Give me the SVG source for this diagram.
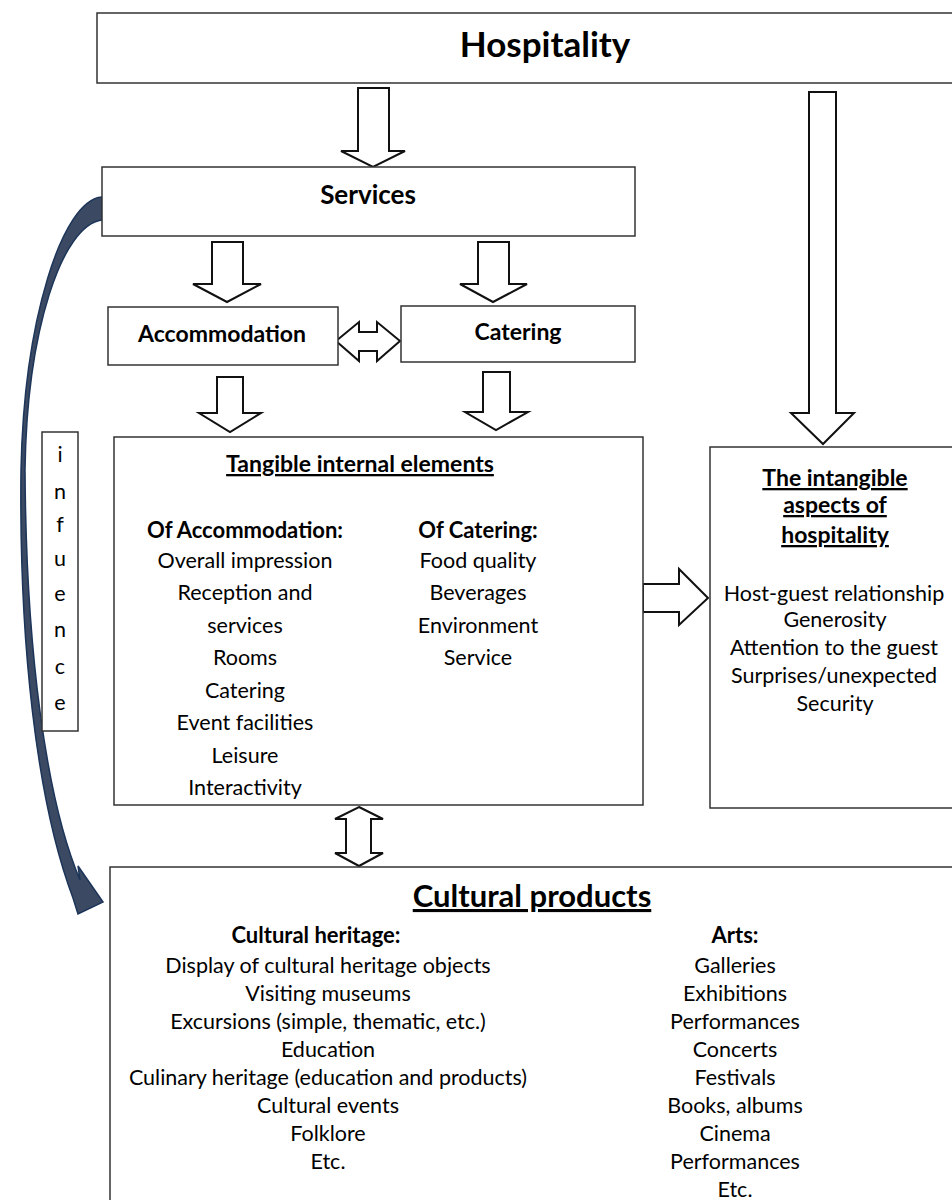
<svg xmlns="http://www.w3.org/2000/svg" width="952" height="1200" viewBox="0 0 952 1200">
<style>
.box{fill:#fff;stroke:#333;stroke-width:1.5}
.arr{fill:#fff;stroke:#111;stroke-width:2;stroke-linejoin:miter}
text{font-family:Lato,"Open Sans","Liberation Sans",sans-serif;fill:#000;text-anchor:middle}
.b{font-weight:bold}
.t{font-size:21.5px}
.bt{font-size:22px;font-weight:bold}
.u{text-decoration:underline}
</style>
<rect width="952" height="1200" fill="#fff"/>
<g id="connectors">
<polygon class="arr" points="358,88 389,88 389,151 405,151 373,167 341,151 358,151"/>
<polygon class="arr" points="809,92 836,92 836,413 854,413 823,444 791,413 809,413"/>
<polygon class="arr" points="212,242 243,242 243,284 261,284 227,302 193,284 212,284"/>
<polygon class="arr" points="478,242 509,242 509,284 527,284 493,302 460,284 478,284"/>
<polygon class="arr" points="217,377 243,377 243,413 261,413 230,432 199,413 217,413"/>
<polygon class="arr" points="483,372 510,372 510,412 528,412 496,430 465,412 483,412"/>
<polygon class="arr" points="336,341 359,322 359,332 377,332 377,322 400,341 377,361 377,351 359,351 359,361"/>
<polygon class="arr" points="643,584 679,584 679,569 708,598 679,625 679,612 643,612"/>
<polygon class="arr" points="359,807 383,819 371,819 371,853 383,853 359,866 335,853 346,853 346,819 335,819"/>
<path d="M102,197 C62,200 24,320 21,470 C19,640 36,800 73,898 L78,914 L103,902 L78,866 L80,880 C46,800 26,650 25,470 C27,330 62,225 102,220 Z" fill="#3b4a62" stroke="#1c3559" stroke-width="1.5"/>
</g>
<g id="hospitality">
<rect class="box" x="97" y="13" width="870" height="70"/>
<text class="b" x="545" y="57" font-size="35">Hospitality</text>
</g>
<g id="services">
<rect class="box" x="102" y="167" width="533" height="69"/>
<text class="b" x="368" y="204" font-size="26">Services</text>
</g>
<g id="accommodation">
<rect class="box" x="108" y="307" width="230" height="58"/>
<text class="b" x="222" y="342" font-size="23">Accommodation</text>
</g>
<g id="catering">
<rect class="box" x="401" y="306" width="234" height="56"/>
<text class="b" x="518" y="340" font-size="23">Catering</text>
</g>
<g id="tangible">
<rect class="box" x="114" y="437" width="529" height="368"/>
<text class="b u" x="360" y="472" font-size="23">Tangible internal elements</text>
<text class="bt" x="245" y="538">Of Accommodation:</text>
<text class="t" x="245" y="568">Overall impression</text>
<text class="t" x="245" y="600">Reception and</text>
<text class="t" x="245" y="633">services</text>
<text class="t" x="245" y="665">Rooms</text>
<text class="t" x="245" y="698">Catering</text>
<text class="t" x="245" y="730">Event facilities</text>
<text class="t" x="245" y="763">Leisure</text>
<text class="t" x="245" y="795">Interactivity</text>
<text class="bt" x="478" y="538">Of Catering:</text>
<text class="t" x="478" y="568">Food quality</text>
<text class="t" x="478" y="600">Beverages</text>
<text class="t" x="478" y="633">Environment</text>
<text class="t" x="478" y="665">Service</text>
</g>
<g id="intangible">
<rect class="box" x="710" y="447" width="260" height="361"/>
<text class="b u" x="835" y="486" font-size="23">The intangible</text>
<text class="b u" x="835" y="513" font-size="23">aspects of</text>
<text class="b u" x="835" y="543" font-size="23">hospitality</text>
<text class="t" x="834" y="601">Host-guest relationship</text>
<text class="t" x="835" y="627">Generosity</text>
<text class="t" x="834" y="655">Attention to the guest</text>
<text class="t" x="834" y="683">Surprises/unexpected</text>
<text class="t" x="835" y="711">Security</text>
</g>
<g id="influence">
<rect class="box" x="42" y="432" width="36" height="299"/>
<text class="t" x="60" y="462">i</text>
<text class="t" x="60" y="499">n</text>
<text class="t" x="60" y="532">f</text>
<text class="t" x="60" y="566">u</text>
<text class="t" x="60" y="601">e</text>
<text class="t" x="60" y="637">n</text>
<text class="t" x="60" y="674">c</text>
<text class="t" x="60" y="710">e</text>
</g>
<g id="cultural">
<rect class="box" x="110" y="867" width="860" height="345"/>
<text class="b u" x="532" y="907" font-size="31">Cultural products</text>
<text class="bt" x="316" y="943">Cultural heritage:</text>
<text class="t" x="328" y="973">Display of cultural heritage objects</text>
<text class="t" x="328" y="1001">Visiting museums</text>
<text class="t" x="328" y="1029">Excursions (simple, thematic, etc.)</text>
<text class="t" x="328" y="1057">Education</text>
<text class="t" x="328" y="1085">Culinary heritage (education and products)</text>
<text class="t" x="328" y="1113">Cultural events</text>
<text class="t" x="328" y="1141">Folklore</text>
<text class="t" x="328" y="1169">Etc.</text>
<text class="bt" x="735" y="943">Arts:</text>
<text class="t" x="735" y="973">Galleries</text>
<text class="t" x="735" y="1001">Exhibitions</text>
<text class="t" x="735" y="1029">Performances</text>
<text class="t" x="735" y="1057">Concerts</text>
<text class="t" x="735" y="1085">Festivals</text>
<text class="t" x="735" y="1113">Books, albums</text>
<text class="t" x="735" y="1141">Cinema</text>
<text class="t" x="735" y="1169">Performances</text>
<text class="t" x="735" y="1197">Etc.</text>
</g>
</svg>
